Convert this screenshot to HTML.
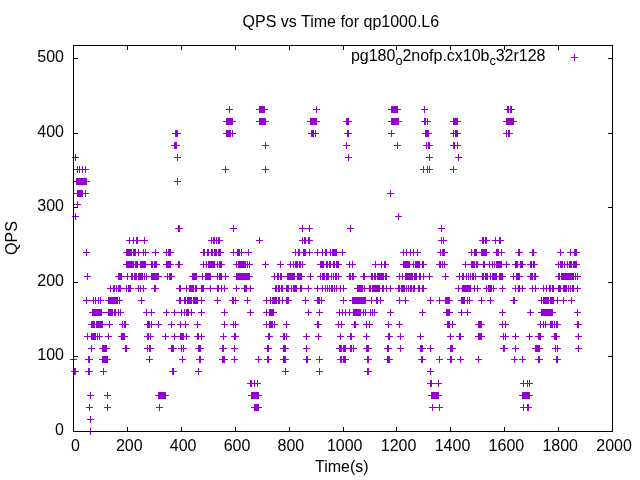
<!DOCTYPE html>
<html><head><meta charset="utf-8"><title>QPS vs Time for qp1000.L6</title>
<style>
html,body{margin:0;padding:0;background:#fff}
body{width:640px;height:480px;overflow:hidden;position:relative;font-family:"Liberation Sans",sans-serif;font-size:16px;color:#000}
svg{position:absolute;left:0;top:0}
.t{position:absolute;white-space:nowrap;line-height:16px}
.yl{text-align:right;width:64px;left:0}
.xl{text-align:center;width:80px}
sub{font-size:12.8px;vertical-align:baseline;position:relative;top:4px;line-height:0}
</style></head><body>
<svg width="640" height="480" viewBox="0 0 640 480" shape-rendering="crispEdges">
<path fill="#9400d3" d="M226 109h7v1h-7zM256 109h12v1h-12zM313 109h7v1h-7zM388 109h13v1h-13zM421 109h7v1h-7zM504 109h11v1h-11zM229 106h1v7h-1zM259 106h6v7h-6zM316 106h1v7h-1zM391 106h7v7h-7zM424 106h1v7h-1zM507 106h2v7h-2zM510 106h2v7h-2zM223 121h13v1h-13zM256 121h13v1h-13zM307 121h13v1h-13zM343 121h9v1h-9zM388 121h14v1h-14zM421 121h10v1h-10zM450 121h11v1h-11zM503 121h14v1h-14zM226 118h7v7h-7zM259 118h7v7h-7zM310 118h7v7h-7zM346 118h3v7h-3zM391 118h8v7h-8zM424 118h2v7h-2zM427 118h1v7h-1zM453 118h5v7h-5zM506 118h8v7h-8zM172 133h9v1h-9zM223 133h13v1h-13zM308 133h11v1h-11zM344 133h8v1h-8zM388 133h7v1h-7zM422 133h10v1h-10zM450 133h11v1h-11zM503 133h10v1h-10zM175 130h3v7h-3zM226 130h5v7h-5zM232 130h1v7h-1zM311 130h3v7h-3zM315 130h1v7h-1zM347 130h2v7h-2zM391 130h1v7h-1zM425 130h4v7h-4zM453 130h1v7h-1zM455 130h3v7h-3zM506 130h1v7h-1zM508 130h2v7h-2zM171 145h9v1h-9zM262 145h7v1h-7zM343 145h7v1h-7zM394 145h7v1h-7zM423 145h10v1h-10zM450 145h11v1h-11zM174 142h3v7h-3zM265 142h1v7h-1zM346 142h1v7h-1zM397 142h1v7h-1zM426 142h1v7h-1zM428 142h2v7h-2zM453 142h2v7h-2zM457 142h1v7h-1zM72 157h7v1h-7zM174 157h7v1h-7zM345 157h7v1h-7zM426 157h7v1h-7zM455 157h7v1h-7zM75 154h1v7h-1zM177 154h1v7h-1zM348 154h1v7h-1zM429 154h1v7h-1zM458 154h1v7h-1zM74 169h15v1h-15zM222 169h7v1h-7zM262 169h7v1h-7zM420 169h13v1h-13zM450 169h7v1h-7zM77 166h1v7h-1zM79 166h1v7h-1zM82 166h1v7h-1zM85 166h1v7h-1zM225 166h1v7h-1zM265 166h1v7h-1zM423 166h1v7h-1zM427 166h1v7h-1zM429 166h1v7h-1zM453 166h1v7h-1zM73 181h17v1h-17zM174 181h7v1h-7zM76 178h11v7h-11zM177 178h1v7h-1zM74 193h15v1h-15zM387 193h7v1h-7zM77 190h6v7h-6zM85 190h1v7h-1zM390 190h1v7h-1zM74 204h7v1h-7zM77 201h1v7h-1zM72 216h7v1h-7zM395 216h7v1h-7zM75 213h1v7h-1zM398 213h1v7h-1zM175 228h8v1h-8zM230 228h7v1h-7zM299 228h14v1h-14zM347 228h7v1h-7zM438 228h7v1h-7zM178 225h2v7h-2zM233 225h1v7h-1zM302 225h1v7h-1zM309 225h1v7h-1zM350 225h1v7h-1zM441 225h1v7h-1zM126 240h22v1h-22zM208 240h15v1h-15zM256 240h7v1h-7zM299 240h14v1h-14zM438 240h9v1h-9zM479 240h11v1h-11zM492 240h12v1h-12zM129 237h1v7h-1zM133 237h1v7h-1zM136 237h2v7h-2zM144 237h1v7h-1zM211 237h1v7h-1zM213 237h2v7h-2zM216 237h1v7h-1zM218 237h2v7h-2zM259 237h1v7h-1zM302 237h1v7h-1zM304 237h2v7h-2zM308 237h2v7h-2zM441 237h1v7h-1zM443 237h1v7h-1zM482 237h2v7h-2zM485 237h2v7h-2zM495 237h1v7h-1zM499 237h2v7h-2zM83 252h7v1h-7zM123 252h26v1h-26zM152 252h7v1h-7zM163 252h11v1h-11zM200 252h24v1h-24zM230 252h22v1h-22zM292 252h21v1h-21zM314 252h32v1h-32zM400 252h21v1h-21zM437 252h11v1h-11zM468 252h22v1h-22zM493 252h12v1h-12zM515 252h8v1h-8zM529 252h8v1h-8zM557 252h7v1h-7zM567 252h13v1h-13zM86 249h1v7h-1zM126 249h6v7h-6zM133 249h3v7h-3zM138 249h1v7h-1zM143 249h1v7h-1zM145 249h1v7h-1zM155 249h1v7h-1zM166 249h1v7h-1zM168 249h3v7h-3zM203 249h2v7h-2zM207 249h2v7h-2zM211 249h2v7h-2zM214 249h3v7h-3zM218 249h3v7h-3zM233 249h1v7h-1zM237 249h3v7h-3zM241 249h1v7h-1zM248 249h1v7h-1zM295 249h1v7h-1zM298 249h2v7h-2zM303 249h3v7h-3zM309 249h1v7h-1zM317 249h1v7h-1zM322 249h1v7h-1zM325 249h2v7h-2zM330 249h1v7h-1zM332 249h5v7h-5zM342 249h1v7h-1zM403 249h1v7h-1zM406 249h1v7h-1zM410 249h1v7h-1zM413 249h1v7h-1zM417 249h1v7h-1zM440 249h1v7h-1zM442 249h3v7h-3zM471 249h1v7h-1zM474 249h3v7h-3zM481 249h6v7h-6zM496 249h3v7h-3zM501 249h1v7h-1zM518 249h2v7h-2zM532 249h2v7h-2zM560 249h1v7h-1zM570 249h1v7h-1zM574 249h3v7h-3zM123 264h37v1h-37zM163 264h11v1h-11zM175 264h8v1h-8zM200 264h25v1h-25zM233 264h20v1h-20zM262 264h7v1h-7zM277 264h7v1h-7zM287 264h19v1h-19zM317 264h25v1h-25zM346 264h10v1h-10zM372 264h17v1h-17zM400 264h27v1h-27zM436 264h12v1h-12zM462 264h48v1h-48zM512 264h14v1h-14zM527 264h11v1h-11zM555 264h25v1h-25zM126 261h8v7h-8zM135 261h3v7h-3zM140 261h6v7h-6zM151 261h2v7h-2zM154 261h3v7h-3zM166 261h5v7h-5zM178 261h2v7h-2zM203 261h1v7h-1zM206 261h1v7h-1zM208 261h7v7h-7zM217 261h1v7h-1zM219 261h3v7h-3zM236 261h1v7h-1zM238 261h8v7h-8zM247 261h1v7h-1zM249 261h1v7h-1zM265 261h1v7h-1zM280 261h1v7h-1zM290 261h1v7h-1zM293 261h1v7h-1zM295 261h3v7h-3zM299 261h2v7h-2zM302 261h1v7h-1zM320 261h4v7h-4zM326 261h2v7h-2zM329 261h2v7h-2zM333 261h2v7h-2zM336 261h3v7h-3zM349 261h1v7h-1zM352 261h1v7h-1zM375 261h1v7h-1zM381 261h1v7h-1zM384 261h2v7h-2zM403 261h7v7h-7zM413 261h1v7h-1zM415 261h5v7h-5zM422 261h2v7h-2zM439 261h2v7h-2zM442 261h1v7h-1zM444 261h1v7h-1zM465 261h1v7h-1zM471 261h4v7h-4zM476 261h2v7h-2zM483 261h2v7h-2zM489 261h1v7h-1zM492 261h1v7h-1zM494 261h1v7h-1zM496 261h6v7h-6zM506 261h1v7h-1zM515 261h3v7h-3zM520 261h3v7h-3zM530 261h2v7h-2zM533 261h2v7h-2zM558 261h1v7h-1zM560 261h3v7h-3zM564 261h1v7h-1zM567 261h1v7h-1zM569 261h3v7h-3zM573 261h4v7h-4zM84 276h7v1h-7zM115 276h47v1h-47zM164 276h11v1h-11zM189 276h40v1h-40zM233 276h20v1h-20zM271 276h34v1h-34zM307 276h7v1h-7zM317 276h25v1h-25zM346 276h11v1h-11zM360 276h30v1h-30zM396 276h37v1h-37zM442 276h7v1h-7zM456 276h50v1h-50zM510 276h13v1h-13zM527 276h12v1h-12zM555 276h26v1h-26zM87 273h1v7h-1zM118 273h4v7h-4zM127 273h1v7h-1zM131 273h2v7h-2zM134 273h3v7h-3zM138 273h5v7h-5zM144 273h1v7h-1zM146 273h1v7h-1zM151 273h8v7h-8zM167 273h1v7h-1zM169 273h3v7h-3zM192 273h5v7h-5zM202 273h1v7h-1zM205 273h6v7h-6zM217 273h1v7h-1zM219 273h3v7h-3zM225 273h1v7h-1zM236 273h14v7h-14zM274 273h1v7h-1zM277 273h2v7h-2zM280 273h2v7h-2zM287 273h8v7h-8zM297 273h5v7h-5zM310 273h1v7h-1zM320 273h1v7h-1zM322 273h3v7h-3zM326 273h3v7h-3zM331 273h1v7h-1zM333 273h1v7h-1zM335 273h1v7h-1zM336 273h1v7h-1zM338 273h1v7h-1zM349 273h2v7h-2zM352 273h2v7h-2zM363 273h2v7h-2zM371 273h2v7h-2zM374 273h2v7h-2zM377 273h7v7h-7zM385 273h2v7h-2zM399 273h1v7h-1zM402 273h1v7h-1zM405 273h8v7h-8zM414 273h3v7h-3zM419 273h2v7h-2zM423 273h1v7h-1zM429 273h1v7h-1zM445 273h1v7h-1zM459 273h1v7h-1zM462 273h2v7h-2zM466 273h1v7h-1zM468 273h1v7h-1zM470 273h1v7h-1zM472 273h2v7h-2zM475 273h1v7h-1zM482 273h2v7h-2zM485 273h3v7h-3zM490 273h1v7h-1zM492 273h5v7h-5zM499 273h4v7h-4zM513 273h1v7h-1zM516 273h4v7h-4zM530 273h3v7h-3zM534 273h2v7h-2zM558 273h2v7h-2zM561 273h13v7h-13zM575 273h1v7h-1zM577 273h1v7h-1zM107 288h27v1h-27zM135 288h12v1h-12zM151 288h8v1h-8zM176 288h52v1h-52zM233 288h7v1h-7zM241 288h13v1h-13zM272 288h40v1h-40zM314 288h33v1h-33zM354 288h40v1h-40zM395 288h32v1h-32zM455 288h26v1h-26zM483 288h14v1h-14zM499 288h7v1h-7zM512 288h14v1h-14zM529 288h10v1h-10zM540 288h41v1h-41zM110 285h1v7h-1zM113 285h2v7h-2zM116 285h1v7h-1zM118 285h3v7h-3zM126 285h1v7h-1zM128 285h3v7h-3zM138 285h1v7h-1zM140 285h1v7h-1zM143 285h1v7h-1zM154 285h2v7h-2zM179 285h2v7h-2zM186 285h1v7h-1zM189 285h5v7h-5zM195 285h2v7h-2zM201 285h3v7h-3zM210 285h1v7h-1zM217 285h2v7h-2zM221 285h1v7h-1zM224 285h1v7h-1zM236 285h1v7h-1zM244 285h1v7h-1zM245 285h2v7h-2zM250 285h1v7h-1zM275 285h2v7h-2zM278 285h2v7h-2zM281 285h2v7h-2zM286 285h3v7h-3zM291 285h1v7h-1zM293 285h4v7h-4zM300 285h2v7h-2zM308 285h1v7h-1zM317 285h1v7h-1zM322 285h1v7h-1zM325 285h1v7h-1zM327 285h1v7h-1zM329 285h1v7h-1zM331 285h1v7h-1zM332 285h1v7h-1zM334 285h1v7h-1zM336 285h1v7h-1zM340 285h1v7h-1zM343 285h1v7h-1zM357 285h6v7h-6zM364 285h1v7h-1zM369 285h2v7h-2zM372 285h8v7h-8zM382 285h2v7h-2zM386 285h1v7h-1zM390 285h1v7h-1zM398 285h2v7h-2zM401 285h4v7h-4zM406 285h1v7h-1zM408 285h1v7h-1zM410 285h2v7h-2zM413 285h2v7h-2zM418 285h2v7h-2zM422 285h2v7h-2zM458 285h1v7h-1zM462 285h9v7h-9zM474 285h1v7h-1zM477 285h1v7h-1zM486 285h1v7h-1zM488 285h4v7h-4zM493 285h1v7h-1zM502 285h1v7h-1zM515 285h1v7h-1zM518 285h2v7h-2zM522 285h1v7h-1zM532 285h1v7h-1zM535 285h1v7h-1zM543 285h1v7h-1zM546 285h1v7h-1zM549 285h1v7h-1zM550 285h1v7h-1zM552 285h1v7h-1zM553 285h1v7h-1zM558 285h3v7h-3zM563 285h4v7h-4zM568 285h1v7h-1zM570 285h1v7h-1zM572 285h2v7h-2zM577 285h1v7h-1zM83 300h21v1h-21zM105 300h18v1h-18zM138 300h7v1h-7zM176 300h29v1h-29zM214 300h7v1h-7zM229 300h10v1h-10zM244 300h7v1h-7zM263 300h29v1h-29zM302 300h7v1h-7zM314 300h11v1h-11zM340 300h7v1h-7zM349 300h35v1h-35zM396 300h13v1h-13zM427 300h7v1h-7zM436 300h17v1h-17zM458 300h15v1h-15zM478 300h7v1h-7zM487 300h7v1h-7zM510 300h8v1h-8zM538 300h29v1h-29zM568 300h7v1h-7zM86 297h1v7h-1zM93 297h1v7h-1zM95 297h1v7h-1zM98 297h1v7h-1zM100 297h1v7h-1zM108 297h10v7h-10zM119 297h1v7h-1zM141 297h1v7h-1zM179 297h2v7h-2zM184 297h2v7h-2zM187 297h5v7h-5zM193 297h5v7h-5zM201 297h1v7h-1zM217 297h1v7h-1zM232 297h2v7h-2zM235 297h1v7h-1zM247 297h1v7h-1zM266 297h1v7h-1zM270 297h1v7h-1zM272 297h5v7h-5zM278 297h2v7h-2zM282 297h1v7h-1zM286 297h3v7h-3zM305 297h1v7h-1zM317 297h3v7h-3zM321 297h1v7h-1zM343 297h1v7h-1zM352 297h14v7h-14zM371 297h1v7h-1zM376 297h2v7h-2zM380 297h1v7h-1zM399 297h1v7h-1zM405 297h1v7h-1zM430 297h1v7h-1zM439 297h1v7h-1zM445 297h5v7h-5zM461 297h4v7h-4zM467 297h1v7h-1zM469 297h1v7h-1zM481 297h1v7h-1zM490 297h1v7h-1zM513 297h2v7h-2zM541 297h1v7h-1zM543 297h6v7h-6zM550 297h4v7h-4zM557 297h1v7h-1zM563 297h1v7h-1zM571 297h1v7h-1zM89 312h35v1h-35zM143 312h12v1h-12zM163 312h7v1h-7zM171 312h24v1h-24zM198 312h7v1h-7zM221 312h7v1h-7zM247 312h7v1h-7zM263 312h14v1h-14zM305 312h7v1h-7zM316 312h7v1h-7zM336 312h42v1h-42zM387 312h7v1h-7zM419 312h7v1h-7zM443 312h10v1h-10zM458 312h13v1h-13zM499 312h7v1h-7zM527 312h7v1h-7zM538 312h18v1h-18zM574 312h7v1h-7zM92 309h10v7h-10zM108 309h5v7h-5zM114 309h2v7h-2zM118 309h1v7h-1zM120 309h1v7h-1zM146 309h1v7h-1zM151 309h1v7h-1zM166 309h1v7h-1zM174 309h1v7h-1zM181 309h1v7h-1zM184 309h1v7h-1zM186 309h3v7h-3zM191 309h1v7h-1zM201 309h1v7h-1zM224 309h1v7h-1zM250 309h1v7h-1zM266 309h1v7h-1zM269 309h5v7h-5zM308 309h1v7h-1zM319 309h1v7h-1zM339 309h1v7h-1zM342 309h1v7h-1zM345 309h1v7h-1zM349 309h1v7h-1zM353 309h8v7h-8zM363 309h1v7h-1zM365 309h1v7h-1zM370 309h1v7h-1zM372 309h1v7h-1zM374 309h1v7h-1zM390 309h1v7h-1zM422 309h1v7h-1zM446 309h4v7h-4zM461 309h1v7h-1zM467 309h1v7h-1zM502 309h1v7h-1zM530 309h1v7h-1zM541 309h12v7h-12zM577 309h1v7h-1zM88 324h25v1h-25zM119 324h10v1h-10zM144 324h18v1h-18zM168 324h7v1h-7zM177 324h12v1h-12zM194 324h7v1h-7zM221 324h7v1h-7zM230 324h9v1h-9zM263 324h15v1h-15zM283 324h7v1h-7zM314 324h8v1h-8zM335 324h10v1h-10zM351 324h8v1h-8zM363 324h10v1h-10zM385 324h7v1h-7zM396 324h7v1h-7zM444 324h12v1h-12zM475 324h10v1h-10zM499 324h10v1h-10zM537 324h24v1h-24zM574 324h8v1h-8zM91 321h4v7h-4zM96 321h7v7h-7zM109 321h1v7h-1zM122 321h1v7h-1zM124 321h2v7h-2zM147 321h3v7h-3zM151 321h1v7h-1zM158 321h1v7h-1zM171 321h1v7h-1zM180 321h1v7h-1zM185 321h1v7h-1zM197 321h1v7h-1zM224 321h1v7h-1zM233 321h1v7h-1zM235 321h1v7h-1zM266 321h1v7h-1zM269 321h4v7h-4zM274 321h1v7h-1zM286 321h1v7h-1zM317 321h2v7h-2zM338 321h1v7h-1zM341 321h1v7h-1zM354 321h2v7h-2zM366 321h1v7h-1zM369 321h1v7h-1zM388 321h1v7h-1zM399 321h1v7h-1zM447 321h3v7h-3zM452 321h1v7h-1zM478 321h4v7h-4zM502 321h1v7h-1zM505 321h1v7h-1zM540 321h1v7h-1zM543 321h1v7h-1zM545 321h1v7h-1zM550 321h3v7h-3zM554 321h1v7h-1zM556 321h2v7h-2zM577 321h2v7h-2zM84 336h19v1h-19zM105 336h7v1h-7zM118 336h10v1h-10zM144 336h10v1h-10zM162 336h7v1h-7zM171 336h19v1h-19zM194 336h11v1h-11zM220 336h7v1h-7zM231 336h8v1h-8zM265 336h8v1h-8zM280 336h10v1h-10zM303 336h7v1h-7zM315 336h7v1h-7zM337 336h7v1h-7zM347 336h8v1h-8zM363 336h7v1h-7zM385 336h8v1h-8zM397 336h7v1h-7zM417 336h7v1h-7zM447 336h7v1h-7zM456 336h8v1h-8zM475 336h10v1h-10zM500 336h9v1h-9zM512 336h7v1h-7zM526 336h7v1h-7zM535 336h9v1h-9zM551 336h9v1h-9zM575 336h7v1h-7zM87 333h1v7h-1zM91 333h5v7h-5zM97 333h1v7h-1zM99 333h1v7h-1zM108 333h1v7h-1zM121 333h4v7h-4zM147 333h2v7h-2zM150 333h1v7h-1zM165 333h1v7h-1zM174 333h1v7h-1zM180 333h4v7h-4zM186 333h1v7h-1zM197 333h2v7h-2zM201 333h1v7h-1zM223 333h1v7h-1zM234 333h2v7h-2zM268 333h2v7h-2zM283 333h2v7h-2zM286 333h1v7h-1zM306 333h1v7h-1zM318 333h1v7h-1zM340 333h1v7h-1zM350 333h2v7h-2zM366 333h1v7h-1zM388 333h2v7h-2zM400 333h1v7h-1zM420 333h1v7h-1zM450 333h1v7h-1zM459 333h2v7h-2zM478 333h4v7h-4zM503 333h1v7h-1zM505 333h1v7h-1zM515 333h1v7h-1zM529 333h1v7h-1zM538 333h3v7h-3zM554 333h3v7h-3zM578 333h1v7h-1zM88 348h7v1h-7zM99 348h11v1h-11zM122 348h8v1h-8zM144 348h10v1h-10zM168 348h9v1h-9zM178 348h9v1h-9zM195 348h9v1h-9zM219 348h8v1h-8zM231 348h7v1h-7zM264 348h8v1h-8zM280 348h9v1h-9zM303 348h7v1h-7zM336 348h21v1h-21zM363 348h9v1h-9zM384 348h8v1h-8zM397 348h7v1h-7zM417 348h9v1h-9zM427 348h7v1h-7zM447 348h9v1h-9zM500 348h8v1h-8zM512 348h7v1h-7zM532 348h11v1h-11zM552 348h9v1h-9zM575 348h7v1h-7zM91 345h1v7h-1zM102 345h5v7h-5zM125 345h2v7h-2zM147 345h1v7h-1zM149 345h2v7h-2zM171 345h3v7h-3zM181 345h1v7h-1zM183 345h1v7h-1zM198 345h3v7h-3zM222 345h2v7h-2zM234 345h1v7h-1zM267 345h2v7h-2zM283 345h3v7h-3zM306 345h1v7h-1zM339 345h3v7h-3zM343 345h3v7h-3zM350 345h2v7h-2zM353 345h1v7h-1zM366 345h3v7h-3zM387 345h2v7h-2zM400 345h1v7h-1zM420 345h3v7h-3zM430 345h1v7h-1zM450 345h3v7h-3zM503 345h2v7h-2zM515 345h1v7h-1zM535 345h5v7h-5zM555 345h1v7h-1zM557 345h1v7h-1zM578 345h1v7h-1zM70 359h7v1h-7zM85 359h8v1h-8zM99 359h12v1h-12zM146 359h7v1h-7zM179 359h7v1h-7zM196 359h8v1h-8zM219 359h9v1h-9zM231 359h7v1h-7zM255 359h7v1h-7zM264 359h8v1h-8zM280 359h9v1h-9zM303 359h8v1h-8zM316 359h7v1h-7zM337 359h12v1h-12zM364 359h8v1h-8zM384 359h9v1h-9zM418 359h8v1h-8zM436 359h7v1h-7zM447 359h8v1h-8zM457 359h7v1h-7zM475 359h7v1h-7zM511 359h7v1h-7zM519 359h7v1h-7zM535 359h8v1h-8zM553 359h8v1h-8zM73 356h1v7h-1zM88 356h2v7h-2zM102 356h6v7h-6zM149 356h1v7h-1zM182 356h1v7h-1zM199 356h2v7h-2zM222 356h3v7h-3zM234 356h1v7h-1zM258 356h1v7h-1zM267 356h2v7h-2zM283 356h3v7h-3zM306 356h2v7h-2zM319 356h1v7h-1zM340 356h2v7h-2zM343 356h3v7h-3zM367 356h2v7h-2zM387 356h3v7h-3zM421 356h2v7h-2zM439 356h1v7h-1zM450 356h2v7h-2zM460 356h1v7h-1zM478 356h1v7h-1zM514 356h1v7h-1zM522 356h1v7h-1zM538 356h2v7h-2zM556 356h2v7h-2zM71 371h8v1h-8zM85 371h8v1h-8zM100 371h7v1h-7zM169 371h8v1h-8zM195 371h7v1h-7zM282 371h7v1h-7zM316 371h7v1h-7zM364 371h8v1h-8zM427 371h7v1h-7zM74 368h2v7h-2zM88 368h2v7h-2zM103 368h1v7h-1zM172 368h2v7h-2zM198 368h1v7h-1zM285 368h1v7h-1zM319 368h1v7h-1zM367 368h2v7h-2zM430 368h1v7h-1zM247 383h14v1h-14zM427 383h15v1h-15zM520 383h13v1h-13zM250 380h2v7h-2zM254 380h1v7h-1zM257 380h1v7h-1zM430 380h2v7h-2zM438 380h1v7h-1zM523 380h1v7h-1zM527 380h1v7h-1zM529 380h1v7h-1zM87 395h7v1h-7zM104 395h7v1h-7zM155 395h14v1h-14zM248 395h14v1h-14zM428 395h14v1h-14zM519 395h14v1h-14zM90 392h1v7h-1zM107 392h1v7h-1zM158 392h8v7h-8zM251 392h8v7h-8zM431 392h8v7h-8zM522 392h8v7h-8zM86 407h7v1h-7zM104 407h7v1h-7zM156 407h7v1h-7zM251 407h11v1h-11zM429 407h14v1h-14zM520 407h12v1h-12zM89 404h1v7h-1zM107 404h1v7h-1zM159 404h1v7h-1zM254 404h5v7h-5zM432 404h1v7h-1zM439 404h1v7h-1zM523 404h1v7h-1zM527 404h2v7h-2zM87 419h7v1h-7zM90 416h1v7h-1zM87 431h7v1h-7zM90 428h1v7h-1zM571 57h7v1h-7zM574 54h1v7h-1z"/>
<path fill="#000" d="M127 427h1v4h-1zM127 46h1v4h-1zM181 427h1v4h-1zM181 46h1v4h-1zM235 427h1v4h-1zM235 46h1v4h-1zM289 427h1v4h-1zM289 46h1v4h-1zM343 427h1v4h-1zM343 46h1v4h-1zM396 427h1v4h-1zM396 46h1v4h-1zM450 427h1v4h-1zM450 46h1v4h-1zM504 427h1v4h-1zM504 46h1v4h-1zM558 427h1v4h-1zM558 46h1v4h-1zM74 356h4v1h-4zM608 356h4v1h-4zM74 282h4v1h-4zM608 282h4v1h-4zM74 207h4v1h-4zM608 207h4v1h-4zM74 133h4v1h-4zM608 133h4v1h-4zM74 58h4v1h-4zM608 58h4v1h-4z"/>
<path fill="none" stroke="#000" stroke-width="1" d="M73.5 45.5H612.5V431.5H73.5Z"/>
</svg>
<div class="t" id="title" style="left:242.6px;top:14px">QPS vs Time for qp1000.L6</div>
<div class="t" id="leg" style="left:351px;top:48px;letter-spacing:-0.025px">pg180<sub>o</sub>2nofp.cx10b<sub>c</sub>32r128</div>
<div class="t" id="ylab" style="left:12px;top:238px;transform:translate(-50%,-50%) rotate(-90deg)">QPS</div>
<div class="t" id="xlab" style="left:315px;top:459px">Time(s)</div>
<div class="t yl" style="top:422px">0</div>
<div class="t yl" style="top:347px">100</div>
<div class="t yl" style="top:273px">200</div>
<div class="t yl" style="top:198px">300</div>
<div class="t yl" style="top:124px">400</div>
<div class="t yl" style="top:49px">500</div>
<div class="t xl" style="left:35.4px;top:438px">0</div>
<div class="t xl" style="left:89.3px;top:438px">200</div>
<div class="t xl" style="left:143.1px;top:438px">400</div>
<div class="t xl" style="left:197.0px;top:438px">600</div>
<div class="t xl" style="left:250.9px;top:438px">800</div>
<div class="t xl" style="left:304.7px;top:438px">1000</div>
<div class="t xl" style="left:358.6px;top:438px">1200</div>
<div class="t xl" style="left:412.5px;top:438px">1400</div>
<div class="t xl" style="left:466.4px;top:438px">1600</div>
<div class="t xl" style="left:520.2px;top:438px">1800</div>
<div class="t xl" style="left:574.1px;top:438px">2000</div>
</body></html>
